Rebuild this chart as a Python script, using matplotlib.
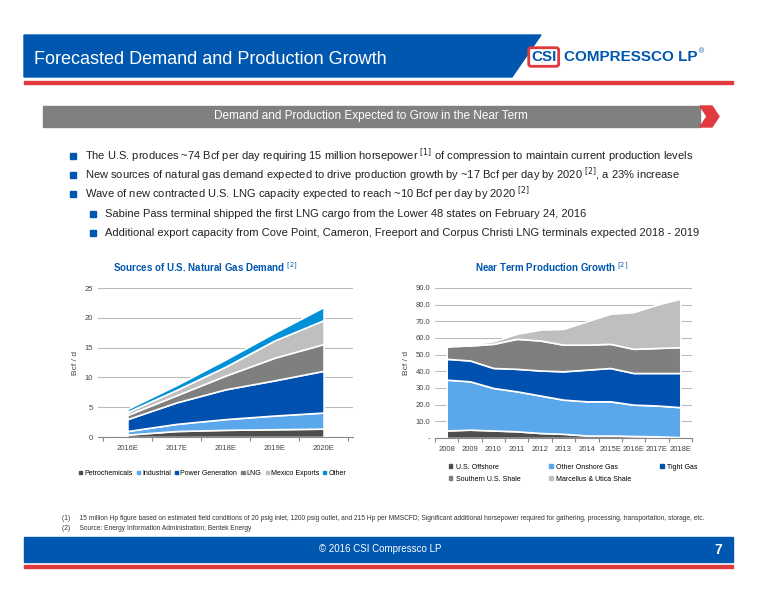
import matplotlib
matplotlib.use("Agg")
import matplotlib.pyplot as plt
from matplotlib.patches import Polygon, Rectangle, Patch
import numpy as np

plt.rcParams['font.family'] = ['Liberation Sans Narrow', 'Liberation Sans', 'DejaVu Sans']

# Left chart data
years_l = ["2016E", "2017E", "2018E", "2019E", "2020E"]
petro = [0.4, 1.0, 1.2, 1.3, 1.4]
industrial = [0.6, 1.2, 1.8, 2.3, 2.7]
power = [2.0, 3.6, 5.0, 5.9, 7.0]
lng = [0.7, 1.2, 2.3, 3.8, 4.5]
mexico = [0.5, 0.9, 1.5, 2.9, 4.0]
other = [0.5, 0.8, 1.2, 1.3, 2.2]
labels_l = ["Petrochemicals", "Industrial", "Power Generation", "LNG", "Mexico Exports", "Other"]
colors_l = ["#4d4d4d", "#5aa7eb", "#0050b0", "#7f7f7f", "#bfbfbf", "#0090d8"]

# Right chart data
years_r = ["2008", "2009", "2010", "2011", "2012", "2013", "2014", "2015E", "2016E", "2017E", "2018E"]
offshore = [4.5, 5.0, 4.5, 4.0, 3.0, 2.5, 1.5, 1.5, 1.2, 1.0, 0.5]
onshore = [30.5, 29.0, 25.5, 24.0, 22.5, 20.5, 20.5, 20.5, 18.8, 18.5, 18.0]
tight = [12.5, 12.5, 12.0, 13.5, 15.0, 17.0, 19.0, 20.0, 19.0, 19.5, 20.5]
southern = [7.5, 9.0, 14.5, 18.0, 18.0, 16.0, 15.0, 14.5, 14.5, 15.0, 15.5]
marcellus = [0.2, 0.5, 1.5, 3.0, 6.5, 9.5, 14.0, 18.0, 22.0, 26.0, 29.0]
labels_r = ["U.S. Offshore", "Other Onshore Gas", "Tight Gas", "Southern U.S. Shale", "Marcellus & Utica Shale"]
colors_r = ["#4d4d4d", "#5aa7eb", "#0050b0", "#7f7f7f", "#bfbfbf"]

W, H = 776, 600
fig = plt.figure(figsize=(7.76, 6.0), dpi=100)
bg = fig.add_axes([0, 0, 1, 1])
bg.set_xlim(0, W); bg.set_ylim(H, 0); bg.axis('off')

blue = "#0057b0"; red = "#e0393e"
# header
bg.add_patch(Polygon([[24, 35], [541, 35], [512, 77], [24, 77]], color=blue))
bg.add_patch(Rectangle((24, 81), 709, 3, color=red))
bg.text(34, 59, "Forecasted Demand and Production Growth", color="white", fontsize=13, va='center')
bg.text(531, 57, "CSI", color=blue, fontsize=11, fontweight='bold', va='center',
        bbox=dict(boxstyle="round,pad=0.15", fc="white", ec=red, lw=2))
bg.text(564, 57, "COMPRESSCO LP", color=blue, fontsize=11, fontweight='bold', va='center',
        family=['Liberation Sans', 'DejaVu Sans'])
bg.text(699, 52, "®", color=blue, fontsize=5, va='center')
# banner
bg.add_patch(Rectangle((43, 106), 657, 21, color="#808080"))
bg.add_patch(Polygon([[700, 106], [712, 106], [719, 116.5], [712, 127], [700, 127], [707, 116.5]], color=red))
bg.text(371, 116.5, "Demand and Production Expected to Grow in the Near Term", color="white",
        fontsize=8.5, ha='center', va='center')

# bullets
bullets = [
    (73, 85, 156, "The U.S. produces ~74 Bcf per day requiring 15 million horsepower $^{[1]}$ of compression to maintain current production levels"),
    (73, 85, 175, "New sources of natural gas demand expected to drive production growth by ~17 Bcf per day by 2020 $^{[2]}$, a 23% increase"),
    (73, 85, 194, "Wave of new contracted U.S. LNG capacity expected to reach ~10 Bcf per day by 2020 $^{[2]}$"),
    (93, 105, 214, "Sabine Pass terminal shipped the first LNG cargo from the Lower 48 states on February 24, 2016"),
    (93, 105, 233, "Additional export capacity from Cove Point, Cameron, Freeport and Corpus Christi LNG terminals expected 2018 - 2019"),
]
for bx, tx, y, t in bullets:
    bg.add_patch(Rectangle((bx - 3, y - 3), 6, 6, color=blue))
    bg.text(tx, y, t, fontsize=8, va='center', color="#222222")

bg.text(205, 267, "Sources of U.S. Natural Gas Demand $^{[2]}$", color=blue, fontsize=7,
        fontweight='bold', ha='center', va='center')
bg.text(552, 267, "Near Term Production Growth $^{[2]}$", color=blue, fontsize=7,
        fontweight='bold', ha='center', va='center')

# footer
bg.text(62, 518, "(1)     15 million Hp figure based on estimated field conditions of 20 psig inlet, 1200 psig outlet, and 215 Hp per MMSCFD; Significant additional horsepower required for gathering, processing, transportation, storage, etc.",
        fontsize=4.8, va='center', color="#333333")
bg.text(62, 529, "(2)     Source: Energy Information Administration; Bentek Energy", fontsize=4.8, va='center', color="#333333")
bg.add_patch(Rectangle((24, 537), 709, 25, color=blue))
bg.add_patch(Rectangle((24, 565), 709, 3, color=red))
bg.text(380, 549.5, "© 2016 CSI Compressco LP", color="white", fontsize=7, ha='center', va='center')
bg.text(722, 549.5, "7", color="white", fontsize=10, fontweight='bold', ha='right', va='center')

def fax(x0, y0, x1, y1):
    return fig.add_axes([x0 / W, 1 - y1 / H, (x1 - x0) / W, (y1 - y0) / H])

def style(ax):
    for s in ['top', 'right', 'left']:
        ax.spines[s].set_visible(False)
    ax.spines['bottom'].set_color('#888888')
    ax.tick_params(axis='both', labelsize=5.5, colors='#444444', length=0)
    ax.tick_params(axis='x', length=3, color='#888888')
    ax.yaxis.grid(True, color='#bbbbbb', lw=0.8)
    ax.set_axisbelow(True)
    ax.patch.set_alpha(0)

# Left chart
axl = fax(98, 288, 353, 437)
xl = np.arange(len(years_l))
axl.stackplot(xl, petro, industrial, power, lng, mexico, other, colors=colors_l,
              edgecolor='white', linewidth=1.2)
axl.set_xlim(-0.6, 4.6); axl.set_ylim(0, 25)
axl.set_yticks(range(0, 26, 5))
axl.set_xticks(np.arange(-0.5, 5, 1), minor=False)
axl.set_xticklabels([])
axl.set_xticks(xl, minor=True)
axl.set_xticklabels(years_l, minor=True)
style(axl)
axl.tick_params(axis='x', which='minor', length=0, labelsize=5.5, colors='#444444', pad=6)
axl.set_ylabel("Bcf / d", fontsize=6, color='#444444')
hl = [Patch(color=c) for c in colors_l]
axl.legend(hl, labels_l, ncol=6, loc='upper center', bbox_to_anchor=(0.45, -0.18), fontsize=5, frameon=False,
           handlelength=0.45, handleheight=0.45, columnspacing=0.6, handletextpad=0.3)

# Right chart
axr = fax(435, 288, 692, 438)
xr = np.arange(len(years_r))
axr.stackplot(xr, offshore, onshore, tight, southern, marcellus, colors=colors_r,
              edgecolor='white', linewidth=1.2)
axr.set_xlim(-0.45, 10.45); axr.set_ylim(0, 90)
axr.set_yticks(range(0, 91, 10))
axr.set_yticklabels(["-"] + [f"{v:.1f}" for v in range(10, 91, 10)])
axr.set_xticks(np.arange(-0.5, 11, 1))
axr.set_xticklabels([])
axr.set_xticks(xr, minor=True)
axr.set_xticklabels(years_r, minor=True)
style(axr)
axr.tick_params(axis='x', which='minor', length=0, labelsize=5.5, colors='#444444', pad=6)
axr.set_ylabel("Bcf / d", fontsize=6, color='#444444')
order = [0, 3, 1, 4, 2]
hs = [Patch(color=colors_r[i]) for i in order]
axr.legend(hs, [labels_r[i] for i in order], ncol=3, loc='upper left', bbox_to_anchor=(0.03, -0.13),
           fontsize=5, frameon=False, handlelength=0.45, handleheight=0.45, columnspacing=4.2,
           handletextpad=0.5, labelspacing=0.7)

fig.savefig("out.png", dpi=100)
